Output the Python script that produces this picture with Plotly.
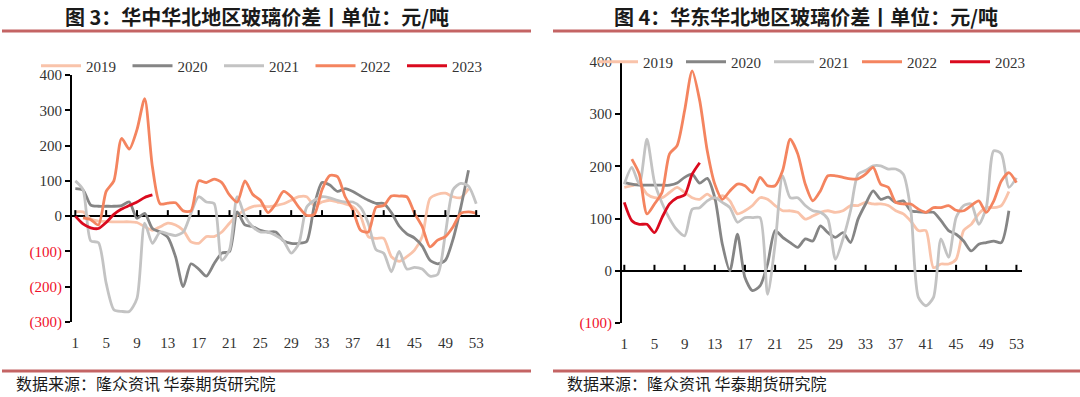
import plotly.graph_objects as go

weeks = list(range(1, 54))
years = ["2019", "2020", "2021", "2022", "2023"]
colors = {"2019": "#F9C3AA", "2020": "#858585", "2021": "#C3C3C3", "2022": "#F4845F", "2023": "#DA0A1E"}

# 华中-华北 (left)
L2019 = [12, 12, -8, -14, -15, -16, -16, -16, -18, -30, -40, -30, -20, -25, -40, -73, -77, -58, -58, -45,
         -20, 3, 17, 27, 30, 27, 30, 35, 45, 55, 55, 30, 40, 45, 40, 35, 27, 0, -58, -63,
         -63, -115, -128, -115, -96, -58, 50, 62, 65, 55, 52, 78]
L2020 = [78, 74, 31, 28, 28, 28, 30, 40, -6, 8, -35, -45, -60, -115, -200, -135, -150, -170, -135, -105,
         -100, 12, -25, -30, -40, -45, -45, -70, -77, -77, -72, 30, 95, 88, 70, 78, 70, 57, 45, 36,
         36, 10, -28, -50, -62, -85, -125, -135, -125, -65, 25, 130]
L2021 = [100, 75, -70, -75, -190, -265, -270, -270, -233, -20, -77, -45, -50, -55, -45, 8, 55, 40, 36, -125,
         -95, 55, 0, -30, -45, -45, -55, -70, -105, -77, 25, 45, 55, 52, 45, 40, 40, 25, -20, -95,
         -105, -158, -100, -150, -145, -150, -170, -165, -50, 75, 93, 85, 35]
L2022 = [None, -5, -10, -25, 70, 100, 220, 190, 245, 333, 140, 35, 37, 38, 15, 15, 100, 95, 105, 95,
         60, 40, 100, 62, 45, 10, 35, 70, 55, 25, 2, 5, 75, 115, 112, 55, 17, -40, -45, 25,
         30, 57, 57, 55, 8, -30, -87, -68, -58, -30, 8, 12, 8]
L2023 = [0, -22, -33, -35, -18, 5, 20, 30, 40, 53, 60]

# 华东-华北 (right)
R2019 = [160, 163, 166, 147, 140, 140, 150, 160, 150, 140, 137, 147, 137, 144, 134, 109, 115, 125, 140, 137,
         125, 115, 115, 112, 99, 105, 112, 115, 112, 115, 125, 125, 131, 128, 128, 125, 115, 109, 95, 77,
         77, 6, 13, 13, 22, 77, 89, 109, 121, 121, 125, 152]
R2020 = [169, 166, 164, 164, 164, 164, 164, 168, 179, 185, 168, 177, 140, 51, 0, 70, -13, -38, -29, 13,
         77, 64, 54, 45, 61, 57, 86, 73, 64, 73, 54, 99, 128, 153, 137, 141, 131, 134, 115, 113,
         112, 112, 96, 77, 70, 57, 38, 51, 54, 57, 54, 115]
R2021 = [166, 198, 166, 252, 170, 130, 100, 78, 67, 118, 121, 134, 140, 131, 121, 93, 102, 102, 102, -45,
         51, 182, 140, 140, 125, 115, 112, 99, 22, 61, 115, 185, 192, 201, 201, 195, 195, 185, 115, -51,
         -67, -51, 61, 26, 102, 125, 128, 89, 121, 230, 224, 160, 178]
R2022 = [None, 214, 185, 109, 128, 150, 224, 240, 307, 383, 326, 230, 166, 137, 153, 166, 163, 150, 179, 163,
         163, 192, 252, 224, 166, 134, 153, 182, 182, 179, 176, 176, 185, 198, 166, 160, 131, 128, 128, 118,
         112, 121, 121, 125, 116, 115, 125, 134, 112, 134, 172, 188, 169]
R2023 = [131, 96, 89, 89, 73, 102, 128, 140, 145, 185, 207]

left_data = {"2019": L2019, "2020": L2020, "2021": L2021, "2022": L2022, "2023": L2023}
right_data = {"2019": R2019, "2020": R2020, "2021": R2021, "2022": R2022, "2023": R2023}

xtick_vals = list(range(1, 54, 4))
left_yvals = [-300, -200, -100, 0, 100, 200, 300, 400]
right_yvals = [-100, 0, 100, 200, 300, 400]

titles = ["图 3：华中华北地区玻璃价差丨单位：元/吨", "图 4：华东华北地区玻璃价差丨单位：元/吨"]
source = "数据来源：隆众资讯 华泰期货研究院"

W, H = 1080, 397
def px(x): return x / W
def py(y): return 1 - y / H

fig = go.Figure()
for yr in years:
    fig.add_trace(go.Scatter(x=weeks[:len(left_data[yr])], y=left_data[yr], name=yr, mode="lines",
                             line=dict(color=colors[yr], width=2.8, shape="spline", smoothing=0.7),
                             xaxis="x", yaxis="y", legend="legend", connectgaps=False))
for yr in years:
    fig.add_trace(go.Scatter(x=weeks[:len(right_data[yr])], y=right_data[yr], name=yr, mode="lines",
                             line=dict(color=colors[yr], width=2.8, shape="spline", smoothing=0.7),
                             xaxis="x2", yaxis="y2", legend="legend2", connectgaps=False))

def ytext(v):
    if v < 0:
        return f"<span style='color:#F0102A'>({-v})</span>"
    return str(v)

serif = "Liberation Serif"
tick_font = dict(family=serif, size=15, color="#333333")

xcommon = dict(tickmode="array", tickvals=xtick_vals, ticktext=[str(v) for v in xtick_vals],
               showline=False, showgrid=False, zeroline=False, ticks="", tickfont=tick_font,
               ticklabelstandoff=10, fixedrange=True, automargin=False)
ycommon = dict(showline=True, linecolor="black", linewidth=2, ticks="outside", ticklen=5, tickwidth=2,
               tickcolor="black", showgrid=False, zeroline=True, zerolinecolor="black", zerolinewidth=2,
               tickfont=tick_font, tickmode="array", automargin=False, fixedrange=True)

fig.update_layout(
    width=W, height=H, margin=dict(l=0, r=0, t=0, b=0, autoexpand=False),
    paper_bgcolor="white", plot_bgcolor="white", hovermode=False,
    xaxis=dict(domain=[px(72), px(480)], range=[0.57, 53.49], anchor="y", **xcommon),
    yaxis=dict(domain=[py(322), py(75)], range=[-300, 400], anchor="x",
               tickvals=left_yvals, ticktext=[ytext(v) for v in left_yvals], **ycommon),
    xaxis2=dict(domain=[px(622), px(1022)], range=[0.695, 53.74], anchor="y2", **xcommon),
    yaxis2=dict(domain=[py(323), py(62)], range=[-100, 400], anchor="x2",
                tickvals=right_yvals, ticktext=[ytext(v) for v in right_yvals], **ycommon),
    legend=dict(orientation="h", x=px(36), xanchor="left", y=py(66), yanchor="middle",
                font=dict(family=serif, size=15, color="#333333"), bgcolor="rgba(0,0,0,0)",
                entrywidth=36.5, entrywidthmode="pixels", itemwidth=40, traceorder="normal"),
    legend2=dict(orientation="h", x=px(593), xanchor="left", y=py(62), yanchor="middle",
                 font=dict(family=serif, size=15, color="#333333"), bgcolor="rgba(0,0,0,0)",
                 entrywidth=33, entrywidthmode="pixels", itemwidth=40, traceorder="normal"),
    showlegend=True,
)

# zero-line tick marks (pointing up) at the x tick positions
shapes = []
for xa, ya in (("x", "y"), ("x2", "y2")):
    for v in xtick_vals:
        shapes.append(dict(type="line", xref=xa, yref=ya, x0=v, x1=v, ysizemode="pixel", yanchor=0,
                           y0=0, y1=6, line=dict(color="black", width=2)))
# decorative rules
rule = "#C46464"
for x0, x1 in ((2, 531), (553, 1080)):
    shapes.append(dict(type="line", xref="paper", yref="paper", x0=px(x0), x1=px(x1), y0=py(31), y1=py(31),
                       line=dict(color=rule, width=3)))
    shapes.append(dict(type="line", xref="paper", yref="paper", x0=px(x0), x1=px(x1), y0=py(371), y1=py(371),
                       line=dict(color=rule, width=3)))
fig.update_layout(shapes=shapes)

ann = []
for t, cx in zip(titles, (257, 806)):
    ann.append(dict(text=f"<b>{t}</b>", xref="paper", yref="paper", x=px(cx), y=py(16), xanchor="center",
                    yanchor="middle", showarrow=False,
                    font=dict(family="Noto Sans CJK SC", size=20, color="#1a1a1a")))
for sx in (14, 565):
    ann.append(dict(text=source, xref="paper", yref="paper", x=px(sx), y=py(383), xanchor="left",
                    yanchor="middle", showarrow=False,
                    font=dict(family="Noto Sans CJK SC", size=16, color="#1a1a1a")))
fig.update_layout(annotations=ann)

fig.write_html("out.html", config={"displayModeBar": False, "staticPlot": False},
               post_script="document.body.style.margin='0px';document.body.style.overflow='hidden';")
